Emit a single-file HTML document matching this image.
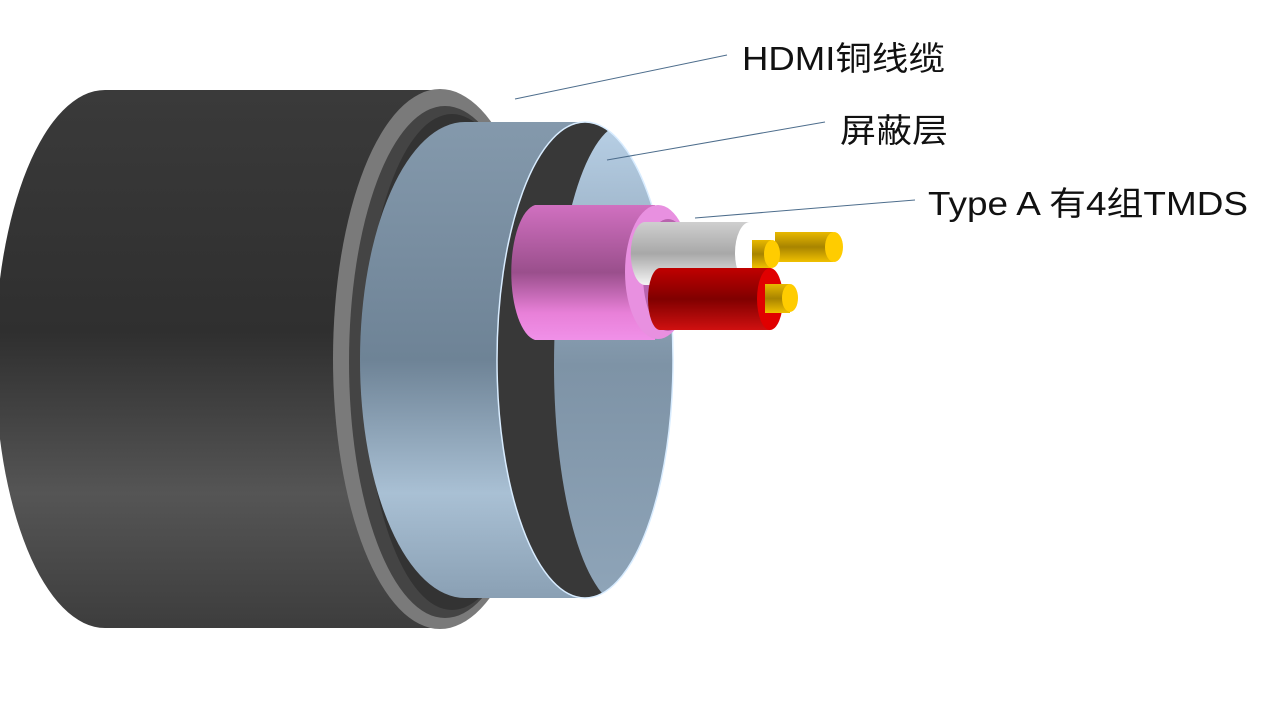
<!DOCTYPE html>
<html><head><meta charset="utf-8"><style>
html,body{margin:0;padding:0;background:#fff;width:1280px;height:720px;overflow:hidden}
svg text{font-family:"Liberation Sans","Noto Sans CJK SC",sans-serif;fill:#111}
</style></head><body>
<svg width="1280" height="720" viewBox="0 0 1280 720" xmlns="http://www.w3.org/2000/svg">
<defs>
<linearGradient id="jk" x1="0" y1="0" x2="0" y2="1">
<stop offset="0" stop-color="#3a3a3a"/><stop offset="0.45" stop-color="#2f2f2f"/><stop offset="0.75" stop-color="#555"/><stop offset="1" stop-color="#3d3d3d"/></linearGradient>
<linearGradient id="bd" x1="0" y1="0" x2="0" y2="1">
<stop offset="0" stop-color="#8499ac"/><stop offset="0.5" stop-color="#6e8396"/><stop offset="0.78" stop-color="#a9c0d4"/><stop offset="1" stop-color="#8aa0b4"/></linearGradient>
<linearGradient id="in" x1="0" y1="0" x2="0" y2="1">
<stop offset="0" stop-color="#b8d0e6"/><stop offset="0.5" stop-color="#7e93a6"/><stop offset="1" stop-color="#8fa5b9"/></linearGradient>
<linearGradient id="pk" x1="0" y1="0" x2="0" y2="1">
<stop offset="0" stop-color="#d070c0"/><stop offset="0.5" stop-color="#9a4f8c"/><stop offset="0.8" stop-color="#e880d8"/><stop offset="1" stop-color="#f090e8"/></linearGradient>
<linearGradient id="wh" x1="0" y1="0" x2="0" y2="1">
<stop offset="0" stop-color="#cfcfcf"/><stop offset="0.5" stop-color="#a8a8a8"/><stop offset="1" stop-color="#f5f5f5"/></linearGradient>
<linearGradient id="rd" x1="0" y1="0" x2="0" y2="1">
<stop offset="0" stop-color="#c00000"/><stop offset="0.5" stop-color="#800000"/><stop offset="1" stop-color="#d01010"/></linearGradient>
<linearGradient id="gd" x1="0" y1="0" x2="0" y2="1">
<stop offset="0" stop-color="#e8b800"/><stop offset="0.5" stop-color="#a88400"/><stop offset="1" stop-color="#f0c000"/></linearGradient>
<clipPath id="op"><ellipse cx="585" cy="360" rx="88" ry="238"/></clipPath>
</defs>
<!-- jacket -->
<path d="M105,90 L440,90 L440,628 L105,628 A110,269 0 0 1 105,90 Z" fill="url(#jk)"/>
<ellipse cx="440" cy="359" rx="107" ry="270" fill="#7a7a7a"/>
<ellipse cx="445" cy="362" rx="96" ry="256" fill="#444"/>
<ellipse cx="452" cy="362" rx="88" ry="248" fill="#333"/>
<!-- shield band -->
<path d="M465,122 L585,122 L585,598 L465,598 A105,238 0 0 1 465,122 Z" fill="url(#bd)"/>
<ellipse cx="585" cy="360" rx="88" ry="238" fill="#383838"/>
<g clip-path="url(#op)">
<ellipse cx="626" cy="365" rx="72" ry="242" fill="url(#in)"/>
</g>
<ellipse cx="585" cy="360" rx="88" ry="238" fill="none" stroke="#d8ecff" stroke-width="1.5"/>
<!-- pink -->
<path d="M535,205 L655,205 L655,340 L535,340 A27,68 0 0 1 535,205 Z" fill="url(#pk)"/>
<ellipse cx="658" cy="272" rx="33" ry="67" fill="#e890e0"/>
<ellipse cx="668" cy="275" rx="25" ry="56" fill="#b864ae"/>
<!-- back gold -->
<path d="M775,232 L833,232 L833,262 L775,262 Z" fill="url(#gd)"/>
<ellipse cx="834" cy="247" rx="9" ry="15" fill="#ffcc00"/>
<!-- white -->
<path d="M645,222 L750,222 L750,285 L645,285 A14,31 0 0 1 645,222 Z" fill="url(#wh)"/>
<ellipse cx="750" cy="253" rx="15" ry="31" fill="#fff"/>
<path d="M752,240 L771,240 L771,268 L752,268 Z" fill="url(#gd)"/>
<ellipse cx="772" cy="254" rx="8" ry="14" fill="#ffcc00"/>
<!-- red -->
<path d="M660,268 L770,268 L770,330 L660,330 A12,31 0 0 1 660,268 Z" fill="url(#rd)"/>
<ellipse cx="770" cy="299" rx="13" ry="31" fill="#e00000"/>
<path d="M765,284 L790,284 L790,313 L765,313 Z" fill="url(#gd)"/>
<ellipse cx="790" cy="298" rx="8" ry="14" fill="#ffcc00"/>
<!-- leader lines -->
<g stroke="#4d6d8c" stroke-width="1" fill="none">
<line x1="727" y1="55" x2="515" y2="99"/>
<line x1="825" y1="122" x2="607" y2="160"/>
<line x1="915" y1="200" x2="695" y2="218"/>
</g>
<text x="742" y="70" font-size="33" textLength="203" lengthAdjust="spacingAndGlyphs">HDMI铜线缆</text>
<text x="840" y="142" font-size="33" textLength="108" lengthAdjust="spacingAndGlyphs">屏蔽层</text>
<text x="928" y="215" font-size="33" textLength="320" lengthAdjust="spacingAndGlyphs">Type A 有4组TMDS</text>
</svg>
</body></html>
